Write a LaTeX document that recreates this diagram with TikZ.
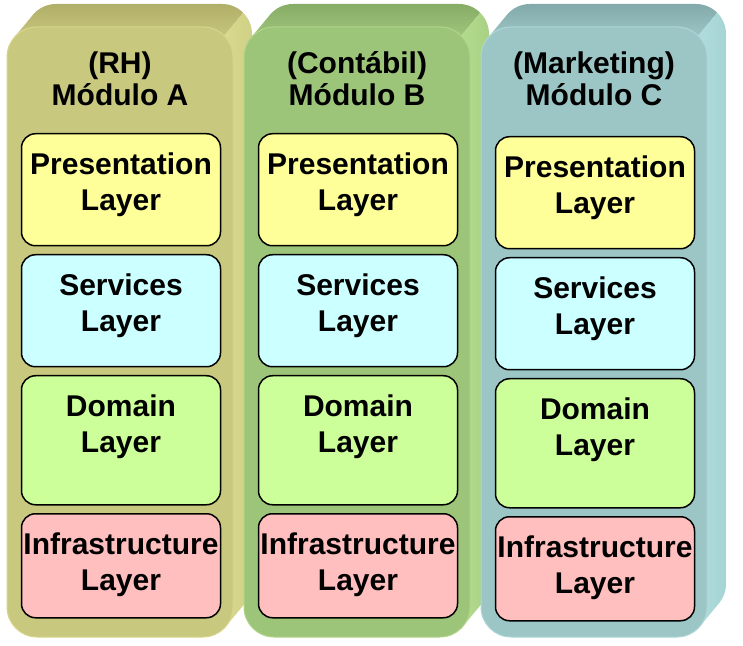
\documentclass[tikz,border=0pt]{standalone}
\usepackage{fontspec}
\setmainfont{Liberation Sans}
\usetikzlibrary{positioning}
\definecolor{faceA}{HTML}{C8C87E}
\definecolor{topdkA}{HTML}{B0AE68}
\definecolor{topltA}{HTML}{D6D68C}
\definecolor{sideltA}{HTML}{E2E294}
\definecolor{sidedkA}{HTML}{D0D086}
\definecolor{faceB}{HTML}{9DC579}
\definecolor{topdkB}{HTML}{86AC66}
\definecolor{topltB}{HTML}{AFD58A}
\definecolor{sideltB}{HTML}{BCE396}
\definecolor{sidedkB}{HTML}{A8D184}
\definecolor{faceC}{HTML}{9CC6C6}
\definecolor{topdkC}{HTML}{82AAAB}
\definecolor{topltC}{HTML}{AED6D6}
\definecolor{sideltC}{HTML}{B6E2E2}
\definecolor{sidedkC}{HTML}{A6D4D4}
\definecolor{presfill}{HTML}{FFFF99}
\definecolor{servfill}{HTML}{CCFFFF}
\definecolor{domfill}{HTML}{CCFF99}
\definecolor{infrafill}{HTML}{FFBFBF}

\begin{document}
\begin{tikzpicture}[x=1pt,y=1pt,node distance=7.5pt,
      layer/.style={draw=black,line width=1.5pt,rounded corners=14pt,minimum width=199pt,
                    inner sep=0pt,align=center,text height=76.5pt,text depth=#1,
                    font=\fontsize{30}{35.5}\selectfont\bfseries},
      title/.style={align=center,font=\fontsize{30}{32}\selectfont\bfseries}]
    \useasboundingbox (0,0) rectangle (743,645);
    \foreach \c/\x/\dy/\name in {A/7/0/RH, B/244/0/Contábil, C/481/3/Marketing}{
      % top of the column
      \path[top color=topdk\c,bottom color=toplt\c]
        (\x+30,588) ++(140.4:30) -- ++(19,23) arc[start angle=140.4,end angle=90,radius=30]
        -- ++(166,0) arc[start angle=90,end angle=45,radius=30] -- ++(-19,-23)
        arc[start angle=45,end angle=90,radius=30] -- ++(-166,0)
        arc[start angle=90,end angle=140.4,radius=30] -- cycle;
      % right side
      \path[left color=sidelt\c,right color=sidedk\c]
        (\x+196,588) ++(45:30) -- ++(19,23) arc[start angle=45,end angle=0,radius=30]
        -- ++(0,-550) arc[start angle=0,end angle=-39.6,radius=30] -- ++(-19,-23)
        arc[start angle=-39.6,end angle=0,radius=30] -- ++(0,550)
        arc[start angle=0,end angle=45,radius=30] -- cycle;
      % front face
      \path[fill=face\c,draw=toplt\c,line width=1pt,rounded corners=30pt] (\x,8) rectangle ++(226,610);
      \node[title] (t\c) at (\x+113,566) {(\name)\\Módulo \c};
      \node[layer=35.5pt,fill=presfill,anchor=north] (p\c) at (\x+114,512-\dy) {Presentation\\Layer};
      \node[layer=35.5pt,fill=servfill,below=of p\c] (s\c) {Services\\Layer};
      \node[layer=52.5pt,fill=domfill,below=of s\c] (d\c) {Domain\\Layer};
      \node[layer=27.5pt,fill=infrafill,below=of d\c] (i\c) {Infrastructure\\Layer};
    }
  \end{tikzpicture}
\end{document}
